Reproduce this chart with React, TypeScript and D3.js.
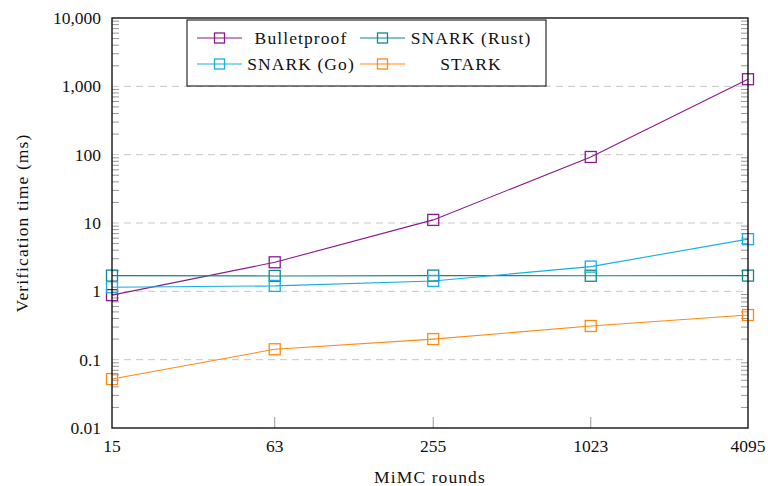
import * as d3 from 'd3'
import React from 'react'

const rounds = [15, 63, 255, 1023, 4095]
const bulletproof = [0.88, 2.66, 11.1, 92.5, 1270]
const snarkRust = [1.7, 1.68, 1.7, 1.69, 1.7]
const snarkGo = [1.15, 1.2, 1.42, 2.3, 5.8]
const stark = [0.052, 0.142, 0.2, 0.311, 0.45]
const yTicks = [0.01, 0.1, 1, 10, 100, 1000, 10000]

const series = [
  { name: 'Bulletproof', values: bulletproof, color: '#8a1a8a' },
  { name: 'SNARK (Rust)', values: snarkRust, color: '#108888' },
  { name: 'SNARK (Go)', values: snarkGo, color: '#16aee8' },
  { name: 'STARK', values: stark, color: '#ff8a10' },
]

const W = 768
const H = 486
const left = 112
const right = 748
const top = 18
const bottom = 428

export default function App() {
  const x = d3.scaleLog().domain([15, 4095]).range([left, right])
  const y = d3.scaleLog().domain([0.01, 10000]).range([bottom, top])
  const fmt = d3.format(',')

  const line = d3.line<[number, number]>()
    .x(d => x(d[0]))
    .y(d => y(d[1]))

  const minor: number[] = []
  for (let e = -2; e < 4; e++) {
    for (let k = 2; k <= 9; k++) minor.push(k * Math.pow(10, e))
  }

  const font = '"Liberation Serif", serif'
  const fs = 17.5
  const ls = 1.1 // palatino is wider than times
  const ms = 11

  // legend: two columns, two rows
  const legendOrder = [
    [series[0], series[1]],
    [series[2], series[3]],
  ]
  const colLine = [197, 360]
  const colText = [301, 471]
  const rowY = [38, 64]

  return (
    <svg width={W} height={H} style={{ position: 'absolute', left: 0, top: 0 }} fontFamily={font}>
      <rect width={W} height={H} fill="white" />
      {/* grid */}
      {yTicks.slice(1, -1).map(t => (
        <line key={'g' + t} x1={left} x2={right} y1={y(t)} y2={y(t)}
          stroke="#c8c8c8" strokeDasharray="7,5" strokeWidth={1} />
      ))}
      {/* minor ticks left / right */}
      {minor.map(t => (
        <g key={'m' + t} stroke="#999" strokeWidth={1}>
          <line x1={left} x2={left + 7} y1={y(t)} y2={y(t)} />
          <line x1={right} x2={right - 7} y1={y(t)} y2={y(t)} />
        </g>
      ))}
      {/* x ticks */}
      {rounds.slice(1, -1).map(r => (
        <line key={'xt' + r} x1={x(r)} x2={x(r)} y1={bottom} y2={bottom - 11} stroke="#999" />
      ))}
      {/* series */}
      {series.map(s => (
        <path key={s.name} d={line(rounds.map((r, i) => [r, s.values[i]]))!}
          fill="none" stroke={s.color} strokeWidth={1.1} />
      ))}
      {series.map(s => rounds.map((r, i) => (
        <rect key={s.name + r} x={x(r) - ms / 2} y={y(s.values[i]) - ms / 2} width={ms} height={ms}
          fill="none" stroke={s.color} strokeWidth={1.3} />
      )))}
      {/* frame */}
      <rect x={left} y={top} width={right - left} height={bottom - top} fill="none" stroke="black" strokeWidth={1.3} />
      {/* tick labels */}
      {yTicks.map(t => (
        <text key={'yl' + t} x={101} y={y(t)} dy="0.35em" textAnchor="end" fontSize={fs} fill="#111">
          {fmt(t)}
        </text>
      ))}
      {rounds.map(r => (
        <text key={'xl' + r} x={x(r)} y={452} textAnchor="middle" fontSize={fs} fill="#111">{r}</text>
      ))}
      <text x={430} y={483} textAnchor="middle" fontSize={fs} letterSpacing={ls} fill="#111">MiMC rounds</text>
      <text transform={`translate(28,${(top + bottom) / 2}) rotate(-90)`} textAnchor="middle" fontSize={fs}
        letterSpacing={ls} fill="#111">
        Verification time (ms)
      </text>
      {/* legend */}
      <rect x={187} y={20} width={359} height={66} fill="white" stroke="black" strokeWidth={1} />
      {legendOrder.map((row, ri) => row.map((s, ci) => (
        <g key={s.name}>
          <line x1={colLine[ci]} x2={colLine[ci] + 45} y1={rowY[ri]} y2={rowY[ri]} stroke={s.color} strokeWidth={1.1} />
          <rect x={colLine[ci] + 22.5 - 5} y={rowY[ri] - 5} width={10} height={10} fill="none" stroke={s.color} strokeWidth={1.3} />
          <text x={colText[ci]} y={rowY[ri]} dy="0.35em" textAnchor="middle" fontSize={fs} letterSpacing={ls}
            fill="#111">{s.name}</text>
        </g>
      )))}
    </svg>
  )
}
